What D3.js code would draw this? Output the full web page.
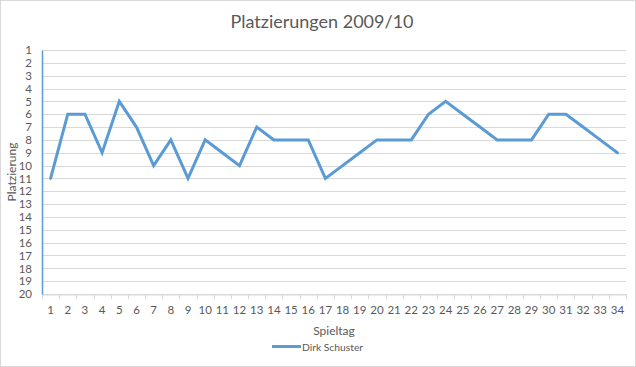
<!DOCTYPE html>
<html><head><meta charset="utf-8">
<script src="https://cdn.jsdelivr.net/npm/d3@7"></script>
<style>body{margin:0;background:#fff}svg{display:block}text{font-family:Lato,"Open Sans",sans-serif;fill:#595959}</style>
</head><body>
<script>
const spieltage = d3.range(1, 35);
const platzierung = [11,6,6,9,5,7,10,8,11,8,9,10,7,8,8,8,11,10,9,8,8,8,6,5,6,7,8,8,8,6,6,7,8,9];
const yTicks = d3.range(1, 21);
const seriesName = "Dirk Schuster";
const title = "Platzierungen 2009/10";

const W = 636, H = 367;
const m = {left: 42, right: 10, top: 50, bottom: 73};
const svg = d3.select("body").append("svg").attr("width", W).attr("height", H);
svg.append("rect").attr("x",0.5).attr("y",0.5).attr("width",W-1).attr("height",H-1)
  .attr("fill","#fff").attr("stroke","#d9d9d9");

const x = d3.scaleBand().domain(spieltage).range([m.left, W - m.right]);
const y = d3.scaleLinear().domain([1, 20]).range([m.top, H - m.bottom]);

// gridlines
svg.append("g").selectAll("line").data(yTicks).join("line")
  .attr("x1", m.left).attr("x2", W - m.right)
  .attr("y1", d => Math.round(y(d)) + 0.5).attr("y2", d => Math.round(y(d)) + 0.5)
  .attr("stroke", "#d9d9d9");

// x axis
const xa = svg.append("g").attr("transform", `translate(0,${Math.round(y(20))+0.5})`)
  .call(d3.axisBottom(x).tickSize(0).tickPadding(11));
xa.select(".domain").attr("stroke", "#d9d9d9");
xa.selectAll("text").style("font-size", "11.5px").attr("fill", "#595959");
const bounds = spieltage.map(d => x(d)).concat([x(34) + x.bandwidth()]);
svg.append("g").selectAll("line").data(bounds).join("line")
  .attr("x1", d => Math.round(d) + 0.5).attr("x2", d => Math.round(d) + 0.5)
  .attr("y1", Math.round(y(20))).attr("y2", Math.round(y(20)) + 5)
  .attr("stroke", "#d9d9d9");

// y axis
const ya = svg.append("g").attr("transform", `translate(${m.left},0)`)
  .call(d3.axisLeft(y).tickValues(yTicks).tickFormat(d3.format("d")).tickSize(0).tickPadding(10));
ya.select(".domain").attr("stroke", "#5b9bd5").attr("stroke-width", 1.5);
ya.selectAll("text").style("font-size", "11.5px").attr("fill", "#595959");

// line
const line = d3.line().x((d, i) => x(spieltage[i]) + x.bandwidth() / 2).y(d => y(d));
svg.append("path").datum(platzierung).attr("d", line)
  .attr("fill", "none").attr("stroke", "#5b9bd5").attr("stroke-width", 3)
  .attr("stroke-linejoin", "miter").attr("stroke-linecap", "round");

// title
svg.append("text").attr("x", 322).attr("y", 28)
  .attr("text-anchor", "middle").style("font-size", "18px").text(title);
// axis titles
svg.append("text").attr("x", 334).attr("y", 335).attr("text-anchor", "middle")
  .style("font-size", "12px").text("Spieltag");
svg.append("text").attr("transform", `translate(16,${(y(1)+y(20))/2}) rotate(-90)`)
  .attr("text-anchor", "middle").style("font-size", "12px").text("Platzierung");
// legend
svg.append("line").attr("x1", 272).attr("x2", 301).attr("y1", 346.5).attr("y2", 346.5)
  .attr("stroke", "#5b9bd5").attr("stroke-width", 3);
svg.append("text").attr("x", 302).attr("y", 350.5).style("font-size", "10.3px").text(seriesName);
</script>
</body></html>
